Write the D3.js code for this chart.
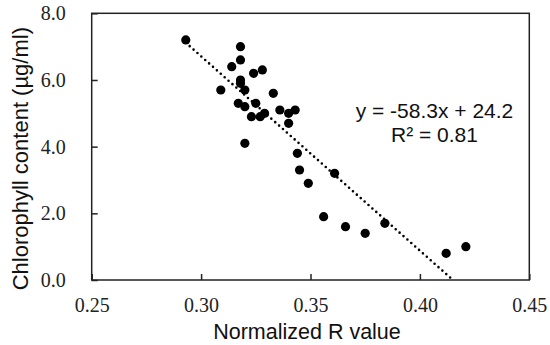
<!DOCTYPE html>
<html><head><meta charset="utf-8">
<script src="https://cdn.jsdelivr.net/npm/d3@7"></script>
<style>html,body{margin:0;padding:0;background:#fff;}svg{display:block;}</style>
</head><body>
<script>
const rValues = [0.293,0.318,0.318,0.314,0.324,0.328,0.318,0.318,0.320,0.309,0.333,0.325,0.317,0.320,0.336,0.343,0.340,0.329,0.327,0.323,0.340,0.320,0.344,0.345,0.349,0.361,0.356,0.366,0.375,0.384,0.412,0.421];
const chlorophyll = [7.2,7.0,6.6,6.4,6.2,6.3,6.0,5.9,5.7,5.7,5.6,5.3,5.3,5.2,5.1,5.1,5.0,5.0,4.9,4.9,4.7,4.1,3.8,3.3,2.9,3.2,1.9,1.6,1.4,1.7,0.8,1.0];
const xTicks = [0.25,0.30,0.35,0.40,0.45];
const yTicks = [0,2,4,6,8];
const slope = -58.3, intercept = 24.2;
const eqLines = ["y = -58.3x + 24.2", "R\u00B2 = 0.81"];
const xTitle = "Normalized R value";
const yTitle = "Chlorophyll content (\u00B5g/ml)";

const W = 550, H = 345;
const m = {left: 91.7, right: 550-529.3, top: 13.3, bottom: 345-280};
const svg = d3.select("body").append("svg").attr("width", W).attr("height", H);
const x = d3.scaleLinear().domain([0.25,0.45]).range([m.left, W-m.right]);
const y = d3.scaleLinear().domain([0,8]).range([H-m.bottom, m.top]);

const serif = "'Liberation Serif','Times New Roman',serif";
const sans = "'Liberation Sans',Arial,sans-serif";

// frame
svg.append("rect").attr("x", x(0.25)).attr("y", y(8)).attr("width", x(0.45)-x(0.25)).attr("height", y(0)-y(8))
  .attr("fill","none").attr("stroke","#222").attr("stroke-width",1.5);

const xAxis = svg.append("g").attr("transform",`translate(0,${y(0)})`)
  .call(d3.axisBottom(x).tickValues(xTicks).tickFormat(d3.format(".2f")).tickSizeInner(-6).tickSizeOuter(0).tickPadding(18));
const yAxis = svg.append("g").attr("transform",`translate(${x(0.25)},0)`)
  .call(d3.axisLeft(y).tickValues(yTicks).tickFormat(d3.format(".1f")).tickSizeInner(-6).tickSizeOuter(0).tickPadding(26));
[xAxis,yAxis].forEach(g=>{
  g.select(".domain").remove();
  g.selectAll(".tick line").attr("stroke","#222").attr("stroke-width",1.5);
  g.selectAll(".tick text").attr("font-family",serif).attr("font-size",20).attr("fill","#222");
});

// trendline
const xmin = d3.min(rValues), xmax = Math.min(d3.max(rValues), -intercept/slope);
svg.append("line").attr("x1",x(xmin)).attr("y1",y(slope*xmin+intercept))
  .attr("x2",x(xmax)).attr("y2",y(slope*xmax+intercept))
  .attr("stroke","#000").attr("stroke-width",2.6).attr("stroke-dasharray","0 5.2").attr("stroke-linecap","round");

// points
svg.append("g").selectAll("circle").data(rValues).join("circle")
  .attr("cx",(d)=>x(d)).attr("cy",(d,i)=>y(chlorophyll[i])).attr("r",4.6).attr("fill","#000");

// equation
svg.append("g").selectAll("text").data(eqLines).join("text")
  .attr("x",434.5).attr("y",(d,i)=>118+i*24).attr("text-anchor","middle")
  .attr("font-family",sans).attr("font-size",21).attr("fill","#111").text(d=>d);

// titles
svg.append("text").attr("x",307).attr("y",339).attr("text-anchor","middle")
  .attr("font-family",sans).attr("font-size",21.5).attr("fill","#111").text(xTitle);
svg.append("text").attr("transform",`translate(28,${(y(0)+y(8))/2+12}) rotate(-90)`).attr("text-anchor","middle")
  .attr("font-family",sans).attr("font-size",22).attr("fill","#111").text(yTitle);
</script>
</body></html>
